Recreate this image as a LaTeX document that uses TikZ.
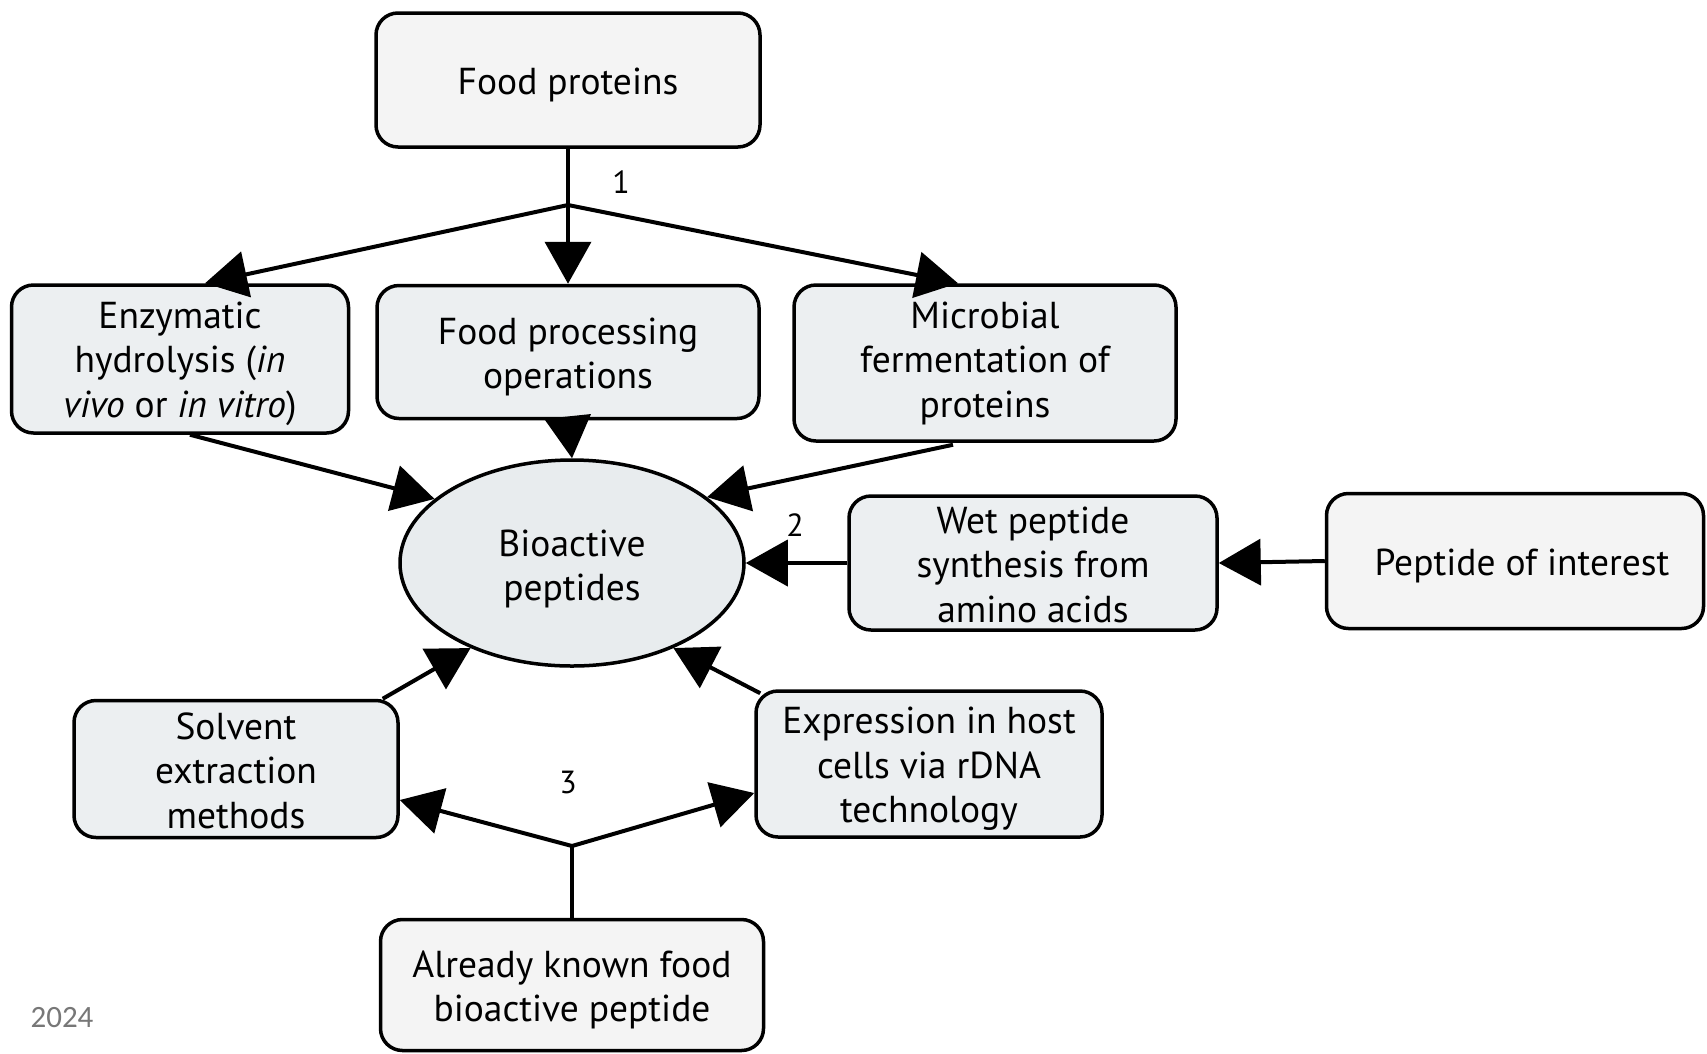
\documentclass[tikz,border=0pt]{standalone}
\usepackage{fontspec}
\setmainfont{PT Sans}
\newfontfamily\yearfont{Carlito}
\usetikzlibrary{arrows.meta,shapes.geometric}
\definecolor{topfill}{HTML}{F4F4F4}
\definecolor{midfill}{HTML}{ECEFF1}
\definecolor{ellfill}{HTML}{E8ECEE}
\definecolor{yeargray}{HTML}{777777}
\tikzset{
  boxbase/.style={draw=black, line width=3.5pt, rounded corners=22pt, align=center,
    inner sep=0pt, font=\fontsize{37.5}{44.5}\selectfont},
  topbox/.style={boxbase, fill=topfill},
  midbox/.style={boxbase, fill=midfill},
  oneline/.style={text height=36pt},
  twolines/.style={text height=80.5pt},
  threelines/.style={text height=125pt},
  conn/.style={line width=4pt, draw=black},
  arr/.style={conn, -{Triangle[length=42pt,width=46pt]}},
  numlabel/.style={font=\fontsize{32}{36}\selectfont}
}
\begin{document}
\begin{tikzpicture}[x=1pt,y=-1pt]
\useasboundingbox[fill=white] (0,0) rectangle (1707,1053);
% nodes
\node[topbox, oneline, minimum width=384pt, minimum height=134pt] (fp) at (568,80) {Food proteins};
\node[midbox, threelines, minimum width=337pt, minimum height=148pt] (enz) at (180,359) {Enzymatic\\hydrolysis (\textit{in}\\\textit{vivo} or \textit{in vitro})};
\node[midbox, twolines, minimum width=382pt, minimum height=133pt] (fpo) at (568,352) {Food processing\\operations};
\node[midbox, threelines, text height=116pt, minimum width=382pt, minimum height=156pt] (mic) at (985,363) {Microbial\\fermentation of\\proteins};
\node[ellipse, draw=black, line width=3.5pt, fill=ellfill, minimum width=344pt, minimum height=206pt, inner sep=0pt, align=center, text height=82.5pt, font=\fontsize{37.5}{44.5}\selectfont] (ell) at (572,563) {Bioactive\\peptides};
\node[midbox, threelines, text height=118.5pt, minimum width=368pt, minimum height=134pt] (wet) at (1033,563) {Wet peptide\\synthesis from\\amino acids};
\node[topbox, oneline, minimum width=377pt, minimum height=135pt] (poi) at (1515,561) {\hspace*{14pt}Peptide of interest};
\node[midbox, threelines, text height=118.5pt, minimum width=324pt, minimum height=137pt] (sol) at (236,769) {Solvent\\extraction\\methods};
\node[midbox, threelines, minimum width=346pt, minimum height=146pt] (exp) at (929,764) {Expression in host\\cells via rDNA\\technology};
\node[topbox, twolines, minimum width=383pt, minimum height=131pt] (akb) at (572,985) {Already known food\\bioactive peptide};
\coordinate (j1) at (568,205);
\coordinate (j3) at (572,846);
% labels
\node[numlabel] (l1) at (621,182) {1};
\node[numlabel] (l2) at (795,525) {2};
\node[numlabel] (l3) at (568,782) {3};
\node[font=\yearfont\fontsize{31}{36}\selectfont, text=yeargray] (yr) at (62,1018) {2024};
% connectors
\draw[conn] (fp.south) -- (j1);
\draw[arr] (j1) -- ([xshift=25pt]enz.north);
\draw[arr] (j1) -- (fpo.north);
\draw[arr] (j1) -- ([xshift=-27pt]mic.north);
\draw[arr] ([xshift=10pt]enz.south) -- (ell.155);
\draw[arr] (fpo.south) -- (ell.north);
\draw[arr] ([xshift=-32pt,yshift=-2pt]mic.south) -- (ell.26);
\draw[arr] (wet.west) -- (ell.east);
\draw[arr] (poi.west) -- (wet.east);
\draw[arr] ([xshift=-17pt]sol.north east) -- (ell.220);
\draw[arr] ([xshift=6pt,yshift=-4pt]exp.north west) -- (ell.320);
\draw[conn] (akb.north) -- (j3);
\draw[arr] (j3) -- ([yshift=-31pt]sol.east);
\draw[arr] (j3) -- ([yshift=-29pt]exp.west);
\end{tikzpicture}
\end{document}
